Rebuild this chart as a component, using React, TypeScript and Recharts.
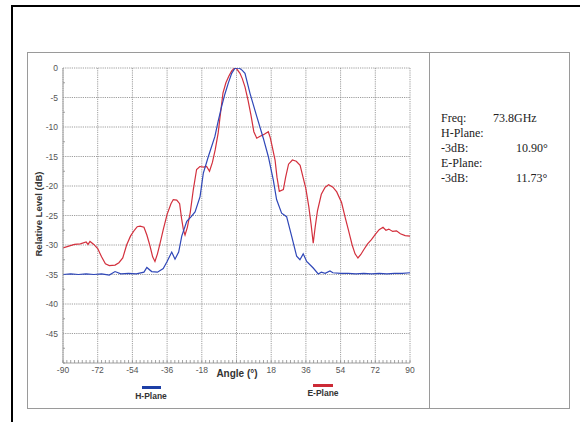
import React from "react";
import { LineChart, Line, XAxis, YAxis, CartesianGrid } from "recharts";

// H-Plane (blue) pattern, angle in degrees / level in dB
const hAngles = [
  -90, -86, -82, -78, -74, -70, -66, -63, -60, -56, -52, -48, -46.5, -44, -41, -38, -36, -33.6,
  -31.9, -30, -28.4, -25.8, -23.5, -21.5, -18.9, -17.2, -14.6, -11.2, -9.5, -7.7, -6, -4.3, -2.5,
  -0.8, 1.4, 3, 4.4, 7, 10.5, 13.9, 16.5, 19.1, 20.8, 23.4, 26, 28.6, 31.2, 32.9, 34.6, 36.4,
  39.8, 42.4, 44, 46, 48.5, 50, 54, 58, 62, 66, 70, 74, 78, 82, 86, 90,
];
const hLevels = [
  -35.0, -34.9, -35.0, -34.9, -35.0, -34.9, -35.1, -34.5, -34.9, -34.8, -34.9, -34.6, -33.8, -34.5,
  -34.6, -34.0, -32.8, -31.2, -32.4, -31.2, -28.5, -26.0, -25.2, -24.4, -21.8, -17.8, -15.0,
  -11.6, -9.0, -6.5, -4.4, -2.6, -0.9, -0.05, 0, -0.4, -0.9, -4.3, -8.2, -11.9, -15.0, -19.0, -22.3,
  -24.6, -25.2, -28.5, -31.9, -32.5, -31.5, -32.8, -33.9, -34.9, -34.6, -34.8, -34.4, -34.7, -34.8,
  -34.8, -34.9, -34.8, -34.9, -34.8, -34.9, -34.8, -34.8, -34.7,
];

// E-Plane (red) pattern
const eAngles = [
  -90, -87, -84, -81, -78, -77, -76, -74, -72, -70, -68, -66, -63, -61, -59, -57, -55, -53, -51.5,
  -50, -48, -46.5, -45, -43.5, -42.3, -41, -39.5, -38, -36, -34, -32.8, -31, -29.5, -28.5, -27.5,
  -26.7, -25.5, -24, -22.4, -20.7, -19, -17, -15.5, -14, -12.5, -11, -9.5, -8.5, -7, -5.5, -4,
  -2.5, -1, 0, 1.8, 3, 4.4, 6, 7.5, 9, 10.5, 12, 14, 16.5, 17.5, 18.5, 20, 21, 22.2, 24.3, 25.5,
  27, 29, 31, 33, 34.5, 36, 37.5, 38.7, 39.8, 40.8, 42, 44, 46, 47.8, 50, 52, 54.5, 56.5, 58, 60,
  61.5, 63, 64.5, 66, 68, 70, 72, 74, 76, 77.5, 79, 81, 83, 85, 87.5, 90,
];
const eLevels = [
  -30.5, -30.2, -29.9, -29.8, -29.5, -29.9, -29.4, -29.9, -30.6, -32.0, -33.2, -33.5, -33.4, -33.0,
  -32.2, -30.0, -28.5, -27.5, -26.9, -26.8, -27.0, -28.3, -30.0, -32.0, -32.8, -31.5, -29.5, -27.4,
  -24.8, -23.0, -22.3, -22.4, -23.0, -25.5, -27.5, -28.3, -27.0, -24.5, -20.6, -17.2, -16.7, -16.8,
  -16.7, -17.5, -16.0, -13.8, -11.0, -8.2, -4.2, -2.5, -1.4, -0.5, 0, -0.1, -0.9, -1.8, -3.2, -5.5,
  -8.0, -10.8, -11.9, -11.6, -11.3, -10.8, -11.8, -13.3, -15.6, -18.5, -20.9, -20.6, -18.5, -16.3,
  -15.6, -15.8, -16.5, -18.5, -20.5, -23.5, -26.5, -29.7, -27.0, -24.2, -21.4, -20.2, -19.8, -20.2,
  -21.0, -22.8, -25.5, -27.4, -30.0, -31.5, -32.2, -31.6, -30.8, -29.8, -29.1, -28.2, -27.4, -27.0,
  -27.5, -27.3, -27.7, -27.6, -28.1, -28.4, -28.5,
];

const angleGrid = [-90, -72, -54, -36, -18, 0, 18, 36, 54, 72, 90];
const levelGrid = [0, -5, -10, -15, -20, -25, -30, -35, -40, -45];

// minor tick marks: every 2 deg on the angle axis, every 2.5 dB on the level axis
const angleTicks: number[] = [];
for (let a = -90; a <= 90; a += 2) angleTicks.push(a);
const levelTicks: number[] = [];
for (let v = -50; v <= 0; v += 2.5) levelTicks.push(v);

const hData = hAngles.map((a, i) => ({ angle: a, level: hLevels[i] }));
const eData = eAngles.map((a, i) => ({ angle: a, level: eLevels[i] }));

const sans = '"Liberation Sans", Arial, sans-serif';
const serif = '"Liberation Serif", "Times New Roman", serif';

const AngleTick = (props: any) => {
  const { x, y, payload } = props;
  const v = payload.value;
  const major = v % 18 === 0;
  return (
    <g>
      <line x1={x} x2={x} y1={y} y2={y - 3} stroke="#8c8c8c" strokeWidth={0.8} />
      {major && v !== 0 && (
        <text x={x} y={y + 10} textAnchor="middle" fontSize={8.5} fill="#555">
          {v}
        </text>
      )}
    </g>
  );
};

const LevelTick = (props: any) => {
  const { x, y, payload } = props;
  const v = payload.value;
  const major = v % 5 === 0 && v !== -50;
  return (
    <g>
      {!major && <line x1={x} x2={x + 2} y1={y} y2={y} stroke="#8c8c8c" strokeWidth={0.8} />}
      {major && (
        <text x={x - 5} y={y + 3} textAnchor="end" fontSize={8.5} fill="#555">
          {v}
        </text>
      )}
    </g>
  );
};

const infoRows = [
  { label: "Freq:", value: "73.8GHz", x: 493 },
  { label: "H-Plane:", value: "", x: 0 },
  { label: "-3dB:", value: "10.90°", x: 516 },
  { label: "E-Plane:", value: "", x: 0 },
  { label: "-3dB:", value: "11.73°", x: 516 },
];

export default function App() {
  return (
    <div
      style={{
        position: "absolute",
        left: 0,
        top: 0,
        width: 580,
        height: 422,
        background: "#fff",
        overflow: "hidden",
      }}
    >
      {/* outer black frame (runs off the right and bottom edges) */}
      <div
        style={{
          position: "absolute",
          left: 11,
          top: 5,
          width: 600,
          height: 440,
          borderLeft: "2px solid #000",
          borderTop: "2px solid #000",
        }}
      />
      {/* gray chart frame + divider */}
      <div
        style={{
          position: "absolute",
          left: 27,
          top: 52,
          width: 541,
          height: 355,
          border: "1px solid #9a9a9a",
        }}
      />
      <div style={{ position: "absolute", left: 429, top: 52, width: 1, height: 356, background: "#9a9a9a" }} />

      <div style={{ position: "absolute", left: 0, top: 0 }}>
        <LineChart
          width={580}
          height={422}
          margin={{ top: 68, right: 170, bottom: 29, left: 33 }}
          style={{ fontFamily: sans }}
        >
          <CartesianGrid
            horizontalValues={levelGrid}
            verticalValues={angleGrid}
            stroke="#858585"
            strokeDasharray="1.2 1"
            strokeWidth={0.8}
          />
          <XAxis
            type="number"
            dataKey="angle"
            domain={[-90, 90]}
            ticks={angleTicks}
            interval={0}
            tick={<AngleTick />}
            tickLine={false}
            tickSize={0}
            tickMargin={0}
            height={30}
            stroke="#a0a0a0"
            allowDataOverflow
            label={{
              content: () => (
                <text x={237} y={377} textAnchor="middle" fontSize={10} fontWeight="bold" fill="#333">
                  Angle (°)
                </text>
              ),
            }}
          />
          <YAxis
            type="number"
            domain={[-50, 0]}
            ticks={levelTicks}
            interval={0}
            tick={<LevelTick />}
            tickLine={false}
            tickSize={0}
            tickMargin={0}
            width={30}
            stroke="#a0a0a0"
            allowDataOverflow
            label={{
              content: () => (
                <text
                  x={42}
                  y={214}
                  transform="rotate(-90 42 214)"
                  textAnchor="middle"
                  fontSize={9.5}
                  fontWeight="bold"
                  fill="#333"
                >
                  Relative Level (dB)
                </text>
              ),
            }}
          />
          <Line
            data={eData}
            dataKey="level"
            name="E-Plane"
            stroke="#d3303d"
            strokeWidth={1.2}
            dot={false}
            isAnimationActive={false}
          />
          <Line
            data={hData}
            dataKey="level"
            name="H-Plane"
            stroke="#2f47b8"
            strokeWidth={1.2}
            dot={false}
            isAnimationActive={false}
          />
        </LineChart>
      </div>

      {/* legend */}
      <div style={{ position: "absolute", left: 142, top: 386, width: 19, height: 3, background: "#1d3fa6" }} />
      <div
        style={{
          position: "absolute",
          left: 120,
          top: 391,
          width: 62,
          textAlign: "center",
          fontFamily: sans,
          fontSize: 8.5,
          fontWeight: "bold",
          color: "#333",
        }}
      >
        H-Plane
      </div>
      <div style={{ position: "absolute", left: 313, top: 384, width: 20, height: 3, background: "#cc2a36" }} />
      <div
        style={{
          position: "absolute",
          left: 292,
          top: 388,
          width: 62,
          textAlign: "center",
          fontFamily: sans,
          fontSize: 8.5,
          fontWeight: "bold",
          color: "#333",
        }}
      >
        E-Plane
      </div>

      {/* measurement summary */}
      {infoRows.map((r, i) => (
        <React.Fragment key={i}>
          <div
            style={{
              position: "absolute",
              left: 441,
              top: 111 + i * 15,
              fontFamily: serif,
              fontSize: 12,
              lineHeight: "14px",
              color: "#222",
              whiteSpace: "pre",
            }}
          >
            {r.label}
          </div>
          {r.value && (
            <div
              style={{
                position: "absolute",
                left: r.x,
                top: 111 + i * 15,
                fontFamily: serif,
                fontSize: 12,
                lineHeight: "14px",
                color: "#222",
                whiteSpace: "pre",
              }}
            >
              {r.value}
            </div>
          )}
        </React.Fragment>
      ))}
    </div>
  );
}
